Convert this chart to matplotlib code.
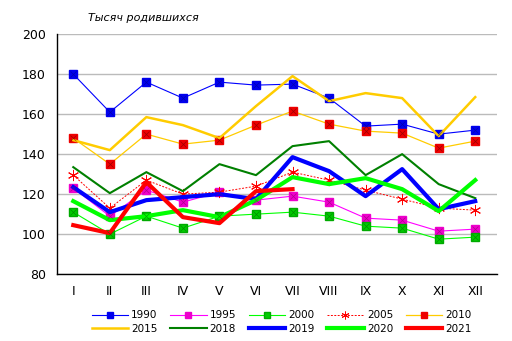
import matplotlib.pyplot as plt

months = ['I', 'II', 'III', 'IV', 'V', 'VI', 'VII', 'VIII', 'IX', 'X', 'XI', 'XII']

y1990 = [180, 161, 176, 168, 176, 174.5, 175, 168, 154, 155, 150, 152]
y1995 = [123, 109, 122, 116, 121, 117, 119, 116, 108, 107, 101.5, 102.5]
y2000 = [111, 100, 109, 103, 109, 110, 111, 109, 104, 103, 97.5, 98.5]
y2005 = [129.5, 113, 127, 120, 121, 124, 131, 127, 122, 117.5, 113, 112]
y2010 = [148, 135, 150, 145, 147, 154.5, 161.5, 155, 151.5, 150.5, 143, 146.5]
y2015 = [147, 142, 158.5, 154.5, 148, 164, 179, 166.5, 170.5, 168, 149, 168.5]
y2018 = [133.5, 120.5, 131, 121.5, 135, 129.5, 144, 146.5, 129.5, 140, 125, 118]
y2019 = [123.5, 111, 117, 118.5, 120, 117.5, 138.5, 131.5, 119, 132.5, 112.5, 116.5]
y2020 = [116.5, 107, 109, 112, 108.5, 117, 128.5, 125, 128, 122.5, 111.5, 127]
y2021 = [104.5, 100.5, 126, 108.5, 105.5, 121.5, 122.5]

fig = plt.figure(figsize=(5.12, 3.41), dpi=100)
ax = fig.add_axes([0.111, 0.196, 0.86, 0.704])

x = range(len(months))
lines = {}
lines['1990'] = ax.plot(x, y1990, color='#0000FF', lw=0.8, marker='s', ms=5.5, mfc='#0000EE', mec='#0000EE')[0]
lines['1995'] = ax.plot(x, y1995, color='#FF00FF', lw=0.8, marker='s', ms=5.5, mfc='#EE00CC', mec='#EE00CC')[0]
lines['2000'] = ax.plot(x, y2000, color='#00FF00', lw=0.8, marker='s', ms=5.5, mfc='#00CC00', mec='#00AA00')[0]
lines['2005'] = ax.plot(x, y2005, color='#FF0000', lw=0.7, ls=(0, (2, 1.5)), marker=(6, 2, 0), ms=8, mew=0.7)[0]
lines['2010'] = ax.plot(x, y2010, color='#FFCC00', lw=0.9, marker='s', ms=5.5, mfc='#EE0000', mec='#EE0000')[0]
lines['2015'] = ax.plot(x, y2015, color='#FFCC00', lw=1.8)[0]
lines['2018'] = ax.plot(x, y2018, color='#008000', lw=1.5)[0]
lines['2019'] = ax.plot(x, y2019, color='#0000FF', lw=3.0)[0]
lines['2020'] = ax.plot(x, y2020, color='#00FF00', lw=3.0)[0]
lines['2021'] = ax.plot(range(len(y2021)), y2021, color='#FF0000', lw=3.0)[0]

# thin x over the square markers
for ys, c in [(y1990, '#000088'), (y1995, '#880066'), (y2000, '#006600'), (y2010, '#660000')]:
    ax.plot(x, ys, ls='none', marker='x', ms=4, mew=0.5, color=c, alpha=0.6)

ax.set_ylim(80, 200)
ax.set_xlim(-0.45, 11.6)
ax.set_yticks(range(80, 201, 20))
ax.set_xticks(list(x))
ax.set_xticklabels(months)
ax.tick_params(length=0, labelsize=9, pad=8)
ax.yaxis.grid(True, color='#BBBBBB', lw=1)
ax.set_axisbelow(True)
for s in ['top', 'right']:
    ax.spines[s].set_visible(False)
ax.spines['left'].set_linewidth(1)
ax.spines['bottom'].set_linewidth(1)

ax.text(0.07, 1.055, 'Тысяч родившихся', transform=ax.transAxes, style='italic', fontsize=8)

order = ['1990', '2015', '1995', '2018', '2000', '2019', '2005', '2020', '2010', '2021']
fig.legend([lines[k] for k in order], order, loc='center', bbox_to_anchor=(0.55, 0.055),
           ncol=5, frameon=False, fontsize=7.5, handlelength=3.5, columnspacing=1.2,
           labelspacing=0.35, handletextpad=0.3, markerscale=0.7)

fig.savefig('out.png', dpi=100)
